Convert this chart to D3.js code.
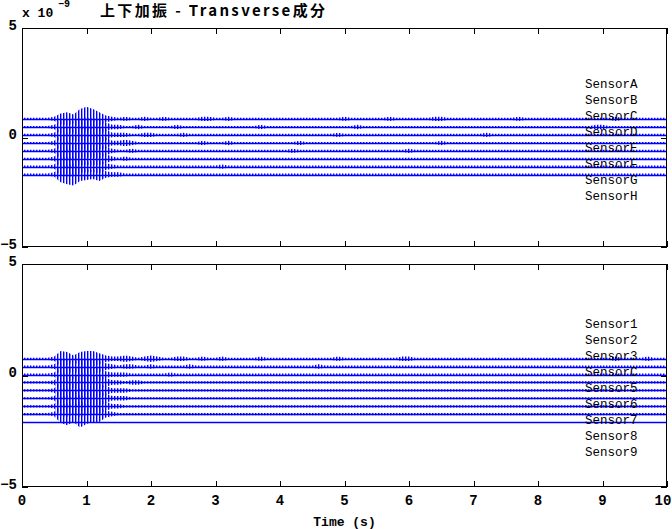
<!DOCTYPE html>
<html>
<head>
<meta charset="utf-8">
<script src="https://cdn.jsdelivr.net/npm/d3@7"></script>
<style>
  html, body { margin: 0; padding: 0; background: #fff; }
  svg { display: block; }
</style>
</head>
<body>
<svg id="chart" width="672" height="529"></svg>
<script>
// ---------------- DATA ----------------
const xTicks = [0, 1, 2, 3, 4, 5, 6, 7, 8, 9, 10];
const yTicks = [-5, 0, 5];
const timeStep = 0.1;      // s between envelope samples
const ampUnit = 0.05;      // x1e-9 per amplitude level

const titleText = "上下加振 - Transverse成分";
const xLabel = "Time (s)";

// top panel
const topNames = ["SensorA", "SensorB", "SensorC", "SensorD", "SensorE", "SensorF", "SensorG", "SensorH"];
const topOffsets = [0.85, 0.48, 0.12, -0.25, -0.61, -0.97, -1.33, -1.69];
const topLabelY = [2.44, 1.71, 0.98, 0.25, -0.48, -1.21, -1.94, -2.67];

const ampA = [1,1,1,1,1,2,5,6,4,9, 11,9,6,3,2,1,2,1,1,2, 1,1,2,1,1,1,1,1,2,2, 1,1,2,1,1,1,1,1,1,1, 1,1,1,1,1,1,1,1,1,1, 2,1,1,1,1,1,1,2,1,1, 1,1,1,1,2,2,1,1,1,1, 1,1,1,1,1,1,1,2,1,1, 1,1,1,1,1,1,1,1,1,1, 1,1,2,1,1,1,1,1,1,1, 1];
const ampB = [1,1,1,1,1,2,6,7,5,8, 9,8,7,4,2,2,1,1,2,1, 1,1,1,1,2,1,1,1,1,1, 1,1,1,1,1,1,1,2,1,1, 1,1,1,1,1,1,1,1,1,1, 1,1,2,1,1,1,1,1,1,1, 1,1,1,1,1,1,1,1,1,1, 1,1,1,1,1,1,1,1,1,1, 1,1,1,1,1,1,1,1,1,2, 2,1,1,1,1,1,1,1,1,1, 1];
const ampC = [1,1,1,1,1,2,7,8,5,7, 8,7,7,5,2,2,2,1,1,2, 2,1,1,1,1,2,1,1,1,1, 1,1,1,1,1,1,1,1,1,1, 1,1,1,1,1,1,1,1,1,2, 1,1,1,1,1,1,1,1,1,1, 1,1,1,1,1,1,1,1,1,1, 1,1,2,1,1,1,1,1,1,1, 1,1,1,1,1,1,1,1,1,1, 1,1,1,1,1,1,1,1,1,1, 1];
const ampD = [1,1,1,1,1,2,7,9,6,7, 7,8,6,5,2,2,3,2,1,1, 1,1,1,1,1,1,1,1,2,1, 1,1,2,1,1,1,1,1,1,1, 1,1,1,2,1,1,1,1,1,1, 1,1,1,1,1,1,1,1,1,1, 1,1,1,1,1,2,1,1,1,1, 1,1,1,1,1,1,1,1,1,1, 1,1,1,1,1,1,1,1,1,1, 1,1,1,1,1,1,1,1,1,1, 1];
const ampE = [1,1,1,1,1,2,7,9,7,7, 7,6,7,4,2,1,1,2,1,1, 1,1,1,1,1,1,1,1,1,1, 1,1,1,1,1,1,1,1,1,1, 1,1,2,1,1,1,1,1,1,1, 1,1,1,1,1,1,1,1,1,1, 2,1,1,1,1,1,1,1,1,1, 1,1,1,1,1,1,1,1,1,1, 1,1,1,1,1,1,1,1,1,1, 1,1,1,1,1,1,1,1,1,1, 1];
const ampF = [1,1,1,1,1,2,7,9,8,6, 6,6,6,4,2,1,2,1,1,1, 1,1,1,1,1,1,1,1,1,1, 1,1,1,1,1,1,1,1,1,1, 1,1,1,1,1,1,1,1,1,1, 1,1,1,1,1,1,1,1,1,1, 1,1,1,1,1,1,1,1,1,1, 1,1,1,1,1,1,1,1,1,1, 1,1,1,1,1,1,1,1,1,1, 1,1,1,1,1,1,1,1,1,1, 1];
const ampG = [1,1,1,1,1,2,8,9,9,6, 5,5,6,3,2,1,1,1,1,1, 1,1,1,1,1,1,1,1,1,1, 1,2,1,1,1,1,1,1,1,1, 1,1,1,1,1,1,1,1,1,1, 1,1,1,1,1,1,1,1,1,1, 1,1,1,1,1,1,1,1,1,1, 1,1,1,1,1,1,1,1,1,1, 1,1,1,1,1,1,1,1,1,1, 1,1,1,1,1,1,1,1,1,1, 1];
const ampH = [1,1,1,1,1,2,7,9,10,6, 5,4,6,3,2,2,1,1,1,1, 1,1,1,1,1,1,1,1,1,1, 1,1,1,1,1,1,1,1,1,1, 1,1,1,1,1,1,1,1,1,1, 1,1,1,1,1,1,1,1,1,1, 1,1,1,1,1,1,1,1,1,1, 1,1,1,1,1,1,1,1,1,1, 1,1,1,1,1,1,1,1,1,1, 1,1,1,1,1,1,1,1,1,1, 1];

// bottom panel
const bottomNames = ["Sensor1", "Sensor2", "Sensor3", "SensorC", "Sensor5", "Sensor6", "Sensor7", "Sensor8", "Sensor9"];
const bottomOffsets = [0.75, 0.40, 0.04, -0.31, -0.67, -1.02, -1.38, -1.73, -2.09];
const bottomLabelY = [2.31, 1.59, 0.87, 0.16, -0.56, -1.28, -2.00, -2.71, -3.43];

const amp1 = [1,1,1,1,1,2,7,6,3,6, 7,7,5,3,2,2,3,2,1,2, 3,2,1,1,2,2,1,1,2,1, 1,2,1,1,1,1,1,2,1,1, 1,1,1,1,1,1,1,1,1,2, 1,1,1,1,1,1,1,1,1,2, 2,1,1,1,1,1,1,1,1,1, 1,1,1,1,1,1,1,1,1,1, 1,1,1,1,1,1,1,1,1,1, 1,1,2,1,1,1,1,2,1,1, 1];
const amp2 = [1,1,1,1,1,2,7,7,4,7, 7,7,5,3,2,1,2,2,1,1, 2,1,1,1,1,1,2,1,1,1, 1,1,1,1,1,1,1,1,1,1, 1,1,1,1,1,1,2,1,1,1, 1,1,1,1,1,1,1,1,1,1, 1,1,1,1,1,1,1,1,1,1, 1,1,1,1,1,1,1,1,1,1, 1,1,1,1,1,1,1,1,1,1, 1,1,1,1,1,1,1,1,1,1, 1];
const amp3 = [1,1,1,1,1,2,7,8,4,8, 8,7,6,3,2,2,2,1,1,1, 1,1,1,2,1,1,1,1,1,1, 1,1,1,1,1,1,1,1,1,1, 1,1,1,1,1,1,1,1,1,1, 1,1,1,1,1,1,1,1,1,1, 1,1,1,1,1,1,1,1,1,1, 1,1,1,1,1,1,1,1,1,1, 1,1,1,1,1,1,1,1,1,1, 1,1,1,1,1,1,1,1,1,1, 1];
const amp4 = [1,1,1,1,1,2,8,8,5,8, 8,7,6,4,2,2,1,2,2,1, 1,1,1,1,1,1,1,1,1,1, 1,1,1,1,1,1,1,1,1,1, 1,1,1,1,1,1,1,1,1,1, 1,1,1,1,1,1,1,1,1,1, 1,1,1,1,1,1,1,1,1,1, 1,1,1,1,1,1,1,1,1,1, 1,1,1,1,1,1,1,1,1,1, 1,1,1,1,1,1,1,1,1,1, 1];
const amp5 = [1,1,1,1,1,2,8,9,6,8, 8,7,6,4,2,2,2,1,1,1, 1,1,1,1,1,1,1,1,1,1, 1,1,1,1,1,1,1,1,1,1, 1,1,1,1,1,1,1,1,1,1, 1,1,1,1,1,1,1,1,1,1, 1,1,1,1,1,1,1,1,1,1, 1,1,1,1,1,1,1,1,1,1, 1,1,1,1,1,1,1,1,1,1, 1,1,1,1,1,1,1,1,1,1, 1];
const amp6 = [1,1,1,1,1,2,8,9,6,9, 8,7,7,4,2,2,2,1,1,1, 1,1,1,1,1,1,1,1,1,1, 1,1,1,1,1,1,1,1,1,1, 1,1,1,1,1,1,1,1,1,1, 1,1,1,1,1,1,1,1,1,1, 1,1,1,1,1,1,1,1,1,1, 1,1,1,1,1,1,1,1,1,1, 1,1,1,1,1,1,1,1,1,1, 1,1,1,1,1,1,1,1,1,1, 1];
const amp7 = [1,1,1,1,1,2,8,10,7,10, 8,7,7,4,2,2,1,1,1,1, 1,1,1,1,1,1,1,1,1,1, 1,1,1,1,1,1,1,1,1,1, 1,1,1,1,1,1,1,1,1,1, 1,1,1,1,1,1,1,1,1,1, 1,1,1,1,1,1,1,1,1,1, 1,1,1,1,1,1,1,1,1,1, 1,1,1,1,1,1,1,1,1,1, 1,1,1,1,1,1,1,1,1,1, 1];
const amp8 = [1,1,1,1,1,2,8,10,7,12, 9,7,7,3,2,1,1,1,1,1, 1,1,1,1,1,1,1,1,1,1, 1,1,1,1,1,1,1,1,1,1, 1,1,1,1,1,1,1,1,1,1, 1,1,1,1,1,1,1,1,1,1, 1,1,1,1,1,1,1,1,1,1, 1,1,1,1,1,1,1,1,1,1, 1,1,1,1,1,1,1,1,1,1, 1,1,1,1,1,1,1,1,1,1, 1];
const amp9 = [0,0,0,0,0,0,0,0,0,0, 0,0,0,0,0,0,0,0,0,0, 0,0,0,0,0,0,0,0,0,0, 0,0,0,0,0,0,0,0,0,0, 0,0,0,0,0,0,0,0,0,0, 0,0,0,0,0,0,0,0,0,0, 0,0,0,0,0,0,0,0,0,0, 0,0,0,0,0,0,0,0,0,0, 0,0,0,0,0,0,0,0,0,0, 0,0,0,0,0,0,0,0,0,0, 0];

const topAmps = [ampA, ampB, ampC, ampD, ampE, ampF, ampG, ampH];
const bottomAmps = [amp1, amp2, amp3, amp4, amp5, amp6, amp7, amp8, amp9];

// ---------------- LAYOUT ----------------
const L = 22, R = 667;
const panels = [
  { top: 28, bottom: 247, names: topNames, offsets: topOffsets, amps: topAmps, labelY: topLabelY, xLabels: false },
  { top: 264, bottom: 487, names: bottomNames, offsets: bottomOffsets, amps: bottomAmps, labelY: bottomLabelY, xLabels: true }
];
const monoFont = "'Liberation Mono', 'DejaVu Sans Mono', monospace";
const BLUE = "#0000ff";

const svg = d3.select("#chart");
svg.append("rect").attr("width", 672).attr("height", 529).attr("fill", "#fff");

// vertical-stripe texture for the dense oscillation envelope
const defs = svg.append("defs");
const pat = defs.append("pattern").attr("id", "osc")
  .attr("patternUnits", "userSpaceOnUse").attr("width", 3).attr("height", 4);
pat.append("rect").attr("x", 0).attr("y", 0).attr("width", 1).attr("height", 4).attr("fill", BLUE);
pat.append("rect").attr("x", 1).attr("y", 0).attr("width", 1).attr("height", 4).attr("fill", BLUE).attr("fill-opacity", 0.4);

panels.forEach((p, pi) => {
  const x = d3.scaleLinear().domain([0, 10]).range([L, R]);
  const y = d3.scaleLinear().domain([-5, 5]).range([p.bottom, p.top]);
  const g = svg.append("g");

  const clipId = "clip" + pi;
  defs.append("clipPath").attr("id", clipId)
    .append("rect").attr("x", L).attr("y", p.top).attr("width", R - L).attr("height", p.bottom - p.top);

  const plot = g.append("g").attr("clip-path", `url(#${clipId})`);

  p.amps.forEach((amp, i) => {
    const off = p.offsets[i];
    const pts = amp.map((a, j) => ({ t: j * timeStep, a: a * ampUnit }));
    const area = d3.area()
      .x(d => x(d.t))
      .y0(d => y(off - d.a))
      .y1(d => y(off + d.a));
    plot.append("path").attr("d", area(pts))
      .attr("fill", "url(#osc)");
    const line = d3.line().x(d => x(d.t)).y(() => Math.round(y(off)) + 0.5);
    plot.append("path").attr("d", line(pts))
      .attr("fill", "none").attr("stroke", BLUE).attr("stroke-width", 1.3);
  });

  // sensor labels
  g.selectAll("text.sensor").data(p.names).enter().append("text")
    .attr("class", "sensor")
    .attr("x", 585)
    .attr("y", (d, i) => y(p.labelY[i]))
    .attr("dy", "0.35em")
    .attr("font-family", monoFont)
    .attr("font-size", 12.5)
    .attr("fill", "#000")
    .text(d => d);

  // frame
  g.append("rect")
    .attr("x", L + 0.5).attr("y", p.top + 0.5)
    .attr("width", R - L - 1).attr("height", p.bottom - p.top - 1)
    .attr("fill", "none").attr("stroke", "#000").attr("stroke-width", 1);

  // x ticks (inside, top and bottom)
  const tl = 6;
  xTicks.forEach(v => {
    const xx = Math.round(x(v)) + 0.5;
    g.append("line").attr("x1", xx).attr("x2", xx).attr("y1", p.bottom).attr("y2", p.bottom - tl).attr("stroke", "#000");
    g.append("line").attr("x1", xx).attr("x2", xx).attr("y1", p.top).attr("y2", p.top + tl).attr("stroke", "#000");
  });
  // y ticks (inside, left and right)
  yTicks.forEach(v => {
    const yy = Math.round(y(v)) + 0.5;
    g.append("line").attr("x1", L).attr("x2", L + tl).attr("y1", yy).attr("y2", yy).attr("stroke", "#000");
    g.append("line").attr("x1", R).attr("x2", R - tl).attr("y1", yy).attr("y2", yy).attr("stroke", "#000");
  });

  // y tick labels
  g.selectAll("text.ytick").data(yTicks).enter().append("text")
    .attr("class", "ytick")
    .attr("x", 17)
    .attr("y", d => y(d) - 3)
    .attr("dy", "0.35em")
    .attr("text-anchor", "end")
    .attr("font-family", monoFont)
    .attr("font-weight", "bold")
    .attr("font-size", 14)
    .attr("fill", "#000")
    .text(d => d < 0 ? "\u2212" + Math.abs(d) : String(d));

  if (p.xLabels) {
    g.selectAll("text.xtick").data(xTicks).enter().append("text")
      .attr("class", "xtick")
      .attr("x", d => Math.min(x(d), 663))
      .attr("y", p.bottom + 13)
      .attr("dy", "0.35em")
      .attr("text-anchor", "middle")
      .attr("font-family", monoFont)
      .attr("font-weight", "bold")
      .attr("font-size", 14)
      .attr("fill", "#000")
      .text(d => d);
    g.append("text")
      .attr("x", (L + R) / 2)
      .attr("y", p.bottom + 34)
      .attr("dy", "0.35em")
      .attr("text-anchor", "middle")
      .attr("font-family", monoFont)
      .attr("font-weight", "bold")
      .attr("font-size", 13)
      .attr("fill", "#000")
      .text(xLabel);
  }
});

// exponent label
svg.append("text")
  .attr("x", 22).attr("y", 17)
  .attr("font-family", monoFont).attr("font-weight", "bold").attr("font-size", 13)
  .attr("fill", "#000").text("x 10");
svg.append("text")
  .attr("x", 58).attr("y", 7)
  .attr("font-family", monoFont).attr("font-weight", "bold").attr("font-size", 10)
  .attr("fill", "#000").text("\u22129");

// title
svg.append("text")
  .attr("x", 100).attr("y", 16)
  .attr("font-family", "'Noto Sans CJK JP', sans-serif")
  .attr("font-weight", "bold").attr("font-size", 15)
  .attr("textLength", 225).attr("lengthAdjust", "spacing")
  .attr("fill", "#000").text(titleText);
</script>
</body>
</html>
